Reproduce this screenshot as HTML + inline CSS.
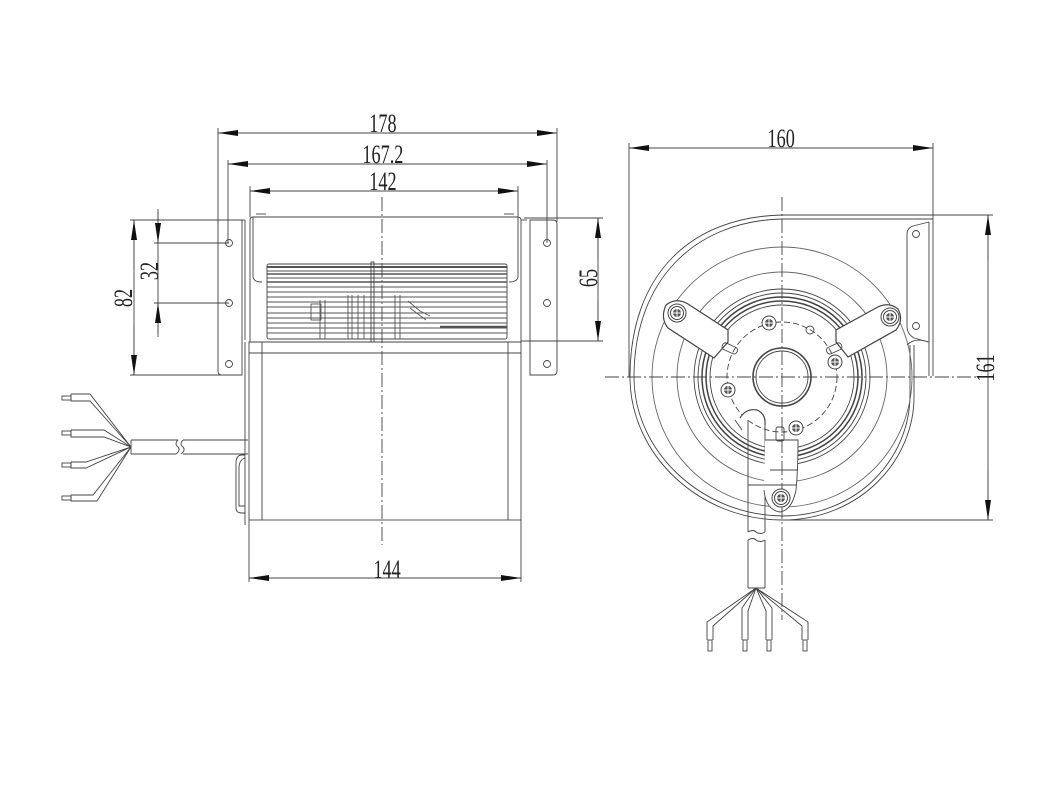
<!DOCTYPE html>
<html><head><meta charset="utf-8"><style>
html,body{margin:0;padding:0;background:#fff;}
svg{display:block}
text{font-family:"Liberation Serif",serif;fill:#222;font-size:26px}
</style></head><body>
<svg width="1050" height="797" viewBox="0 0 1050 797" xmlns="http://www.w3.org/2000/svg">
<defs>
<marker id="a" viewBox="0 0 20 6" refX="20" refY="3" markerWidth="20" markerHeight="6" markerUnits="userSpaceOnUse" orient="auto"><path d="M0,0 L20,3 L0,6z" fill="#111"/></marker>
<g id="scr"><circle r="9" fill="#fff" stroke="#444"/><circle r="6.5" fill="none" stroke="#444"/><circle r="4" fill="#555" stroke="none"/><path d="M-5,0 H5 M0,-5 V5" stroke="#fff" stroke-width="1"/></g>
<g id="scs"><circle r="7" fill="#fff" stroke="#444"/><circle r="4" fill="#555" stroke="none"/><path d="M-4,0 H4 M0,-4 V4" stroke="#fff" stroke-width="1"/></g>
</defs>
<g fill="none" stroke="#444" stroke-width="0.9">
<!-- ===== LEFT VIEW ===== -->
<line x1="218" y1="128" x2="218" y2="222"/><line x1="557" y1="128" x2="557" y2="222"/>
<line x1="218" y1="133" x2="557" y2="133"/>
<line x1="300" y1="133" x2="218" y2="133" marker-end="url(#a)"/><line x1="470" y1="133" x2="557" y2="133" marker-end="url(#a)"/>
<line x1="228" y1="160" x2="228" y2="243"/><line x1="547" y1="160" x2="547" y2="243"/>
<line x1="228" y1="164" x2="547" y2="164"/>
<line x1="300" y1="164" x2="228" y2="164" marker-end="url(#a)"/><line x1="470" y1="164" x2="547" y2="164" marker-end="url(#a)"/>
<line x1="250" y1="186" x2="250" y2="217"/><line x1="518" y1="186" x2="518" y2="217"/>
<line x1="250" y1="191" x2="518" y2="191"/>
<line x1="320" y1="191" x2="250" y2="191" marker-end="url(#a)"/><line x1="450" y1="191" x2="518" y2="191" marker-end="url(#a)"/>
<line x1="249" y1="520" x2="249" y2="582"/><line x1="521" y1="520" x2="521" y2="582"/>
<line x1="249" y1="578" x2="521" y2="578"/>
<line x1="320" y1="578" x2="249" y2="578" marker-end="url(#a)"/><line x1="450" y1="578" x2="521" y2="578" marker-end="url(#a)"/>
<line x1="130" y1="220" x2="228" y2="220"/><line x1="130" y1="375" x2="228" y2="375"/>
<line x1="134" y1="220" x2="134" y2="375"/>
<line x1="134" y1="270" x2="134" y2="220" marker-end="url(#a)"/><line x1="134" y1="325" x2="134" y2="375" marker-end="url(#a)"/>
<line x1="154" y1="243" x2="229" y2="243"/><line x1="154" y1="303" x2="229" y2="303"/>
<line x1="158" y1="209" x2="158" y2="337"/>
<line x1="158" y1="212" x2="158" y2="243" marker-end="url(#a)"/><line x1="158" y1="334" x2="158" y2="303" marker-end="url(#a)"/>
<line x1="524" y1="218" x2="603" y2="218"/><line x1="524" y1="341" x2="603" y2="341"/>
<line x1="598" y1="218" x2="598" y2="341"/>
<line x1="598" y1="260" x2="598" y2="218" marker-end="url(#a)"/><line x1="598" y1="300" x2="598" y2="341" marker-end="url(#a)"/>
<path d="M218,220 H242 V375 H222 Q218,375 218,371 Z"/>
<line x1="242" y1="220" x2="245" y2="220"/><line x1="245" y1="220" x2="245" y2="340"/>
<circle cx="229" cy="243" r="3.5"/><circle cx="229" cy="303" r="3.5"/><circle cx="229" cy="364" r="3.5"/>
<path d="M530,220 H553 Q557,220 557,224 V371 Q557,375 553,375 H530 Z"/>
<circle cx="547" cy="243" r="3.5"/><circle cx="547" cy="303" r="3.5"/><circle cx="547" cy="364" r="3.5"/>
<path d="M250,342 V220 Q250,217 253,217 H517 Q521,217 521,220 V342 Z"/>
<path d="M253,217 V276 Q253,282 262,282"/><path d="M518,217 V276 Q518,282 509,282"/>
<line x1="256" y1="214" x2="266" y2="214"/><line x1="504" y1="214" x2="514" y2="214"/>
<line x1="521" y1="220" x2="527" y2="220"/><line x1="521" y1="341" x2="527" y2="341"/>
<rect x="267" y="264" width="240" height="75" rx="2"/>
<g stroke="#555">
<line x1="267" y1="267" x2="507" y2="267" stroke-width="2"/>
<line x1="267" y1="271" x2="507" y2="271"/><line x1="267" y1="274" x2="507" y2="274" stroke-width="1.6"/>
<line x1="267" y1="278" x2="507" y2="278"/><line x1="267" y1="282" x2="507" y2="282" stroke-width="1.4"/>
<line x1="267" y1="287" x2="507" y2="287"/><line x1="267" y1="292" x2="507" y2="292"/>
<line x1="267" y1="297" x2="507" y2="297"/><line x1="267" y1="302" x2="507" y2="302"/>
<line x1="267" y1="307" x2="507" y2="307"/><line x1="267" y1="313" x2="507" y2="313"/>
<line x1="267" y1="318" x2="507" y2="318"/><line x1="267" y1="323" x2="507" y2="323"/>
<line x1="267" y1="328" x2="507" y2="328"/><line x1="267" y1="333" x2="507" y2="333"/>
<line x1="440" y1="327" x2="507" y2="327" stroke-width="2.5"/>
<line x1="320" y1="300" x2="320" y2="339"/><line x1="325" y1="300" x2="325" y2="339"/>
<line x1="348" y1="295" x2="348" y2="339"/><line x1="352" y1="295" x2="352" y2="339"/>
<line x1="358" y1="295" x2="358" y2="339"/><line x1="364" y1="295" x2="364" y2="339"/>
<line x1="395" y1="295" x2="395" y2="339"/><line x1="400" y1="295" x2="400" y2="339"/>
<rect x="311" y="304" width="10" height="16"/>
<path d="M408,301 L420,311 L430,316 M410,308 L426,320"/>
</g>
<rect x="371" y="262" width="3" height="80"/>
<rect x="249" y="342" width="272" height="178"/>
<line x1="262" y1="342" x2="262" y2="520"/><line x1="508" y1="342" x2="508" y2="520"/>
<line x1="249" y1="353" x2="521" y2="353"/>
<line x1="245" y1="342" x2="245" y2="525"/>
<path d="M245,455 H242 Q236,455 236,463 V508 Q236,513 242,513 H245"/>
<path d="M245,458 Q239,460 239,468 V506 H245"/>
<path d="M131,440 H178 M131,454 H176 M183,440 H248 M183,454 H248"/>
<path d="M178,440 q-4,4 0,7 q3,3 -2,7"/><path d="M183,440 q-4,4 0,7 q3,3 -2,7"/>
<line x1="131" y1="440" x2="131" y2="454"/>
<path d="M131,447 L90,394 H71 M131,447 L90,401 H71 V394"/>
<path d="M131,447 L104,430 H71 M131,447 L104,437 H71 V430"/>
<path d="M131,447 L86,462 H71 M131,447 L86,468 H71 V462"/>
<path d="M131,447 L93,495 H71 M131,447 L97,501 H71 V495"/>
<rect x="62" y="396" width="9" height="4"/><rect x="62" y="431" width="9" height="4"/>
<rect x="62" y="463" width="9" height="4"/><rect x="62" y="496" width="9" height="4"/>
<line x1="382" y1="197" x2="382" y2="545" stroke-dasharray="14,3,2,3"/>

<!-- ===== RIGHT VIEW ===== -->
<line x1="629" y1="143" x2="629" y2="377"/><line x1="933" y1="143" x2="933" y2="215"/>
<line x1="629" y1="148" x2="933" y2="148"/>
<line x1="700" y1="148" x2="629" y2="148" marker-end="url(#a)"/><line x1="860" y1="148" x2="933" y2="148" marker-end="url(#a)"/>
<line x1="782" y1="215" x2="993" y2="215"/><line x1="782" y1="520" x2="993" y2="520"/>
<line x1="988" y1="215" x2="988" y2="520"/>
<line x1="988" y1="260" x2="988" y2="215" marker-end="url(#a)"/><line x1="988" y1="470" x2="988" y2="520" marker-end="url(#a)"/>
<path d="M933,215 H782 C690,217 630,275 630,377 C630,455 700,520 782,520 C860,520 915,460 914,395 L914,345"/>
<path d="M933,219 H782 C695,221 634,280 634,377 C634,452 702,515 782,516 C858,516 910,458 910,395 L910,345"/>
<path d="M907,345 Q915,337 928,342"/>
<line x1="933" y1="215" x2="933" y2="376"/><line x1="929" y1="222" x2="929" y2="376"/>
<path d="M929,222 L913,226 Q907,228 907,234 V326 Q907,334 914,338 L929,342"/>
<circle cx="916" cy="234" r="3.5"/><circle cx="916" cy="326" r="3.5"/>
<circle cx="782" cy="377" r="130" stroke="#666"/>
<circle cx="782" cy="377" r="105" stroke="#666"/>
<circle cx="782" cy="377" r="88"/>
<circle cx="782" cy="377" r="84"/>
<circle cx="782" cy="377" r="80" stroke-width="1.5"/>
<circle cx="782" cy="377" r="76" stroke-width="1.5"/>
<circle cx="782" cy="377" r="72"/>
<circle cx="782" cy="377" r="55" stroke-dasharray="6,3"/>
<circle cx="782" cy="377" r="29" stroke-width="1.6"/>
<circle cx="782" cy="377" r="26"/>
<path d="M666,305 Q676,297 688,304 L728,330 L728,342 L714,358 L668,328 Q660,318 666,305 Z" fill="#fff" stroke-width="1.2"/>
<path d="M898,309 Q888,301 876,308 L836,330 L836,342 L848,357 L896,330 Q904,320 898,309 Z" fill="#fff" stroke-width="1.2"/>
<rect x="722" y="345" width="16" height="7" rx="3" transform="rotate(25 730 348)"/>
<rect x="826" y="345" width="16" height="7" rx="3" transform="rotate(-25 834 348)"/>
<circle cx="810" cy="330" r="4"/>
<path d="M740,418 Q746,408 757,410 Q766,414 765,425" fill="#fff" stroke-width="1.2"/>
<path d="M735,420 L742,430"/>
<path d="M748,420 V532 M765,425 V532 M748,540 V588 M765,540 V588"/>
<path d="M748,532 q5,-3 8,0 q4,3 9,0 M748,540 q5,-3 8,0 q4,3 9,0"/>
<line x1="748" y1="588" x2="765" y2="588"/>
<path d="M765,440 H798 Q798,470 796,490 Q792,510 780,512 Q766,510 764,490" fill="#fff"/>
<line x1="770" y1="470" x2="798" y2="470"/><line x1="748" y1="485" x2="796" y2="485"/>
<rect x="776" y="427" width="8" height="14" rx="2"/>
<!-- wires -->
<path d="M756,588 L707,622 V640 M756,588 L713,626 V640"/>
<path d="M756,588 L742,608 V640 M756,588 L748,611 V640"/>
<path d="M756,588 L766,611 V640 M756,588 L772,608 V640"/>
<path d="M756,588 L808,622 V640 M756,588 L802,626 V640"/>
<rect x="708" y="640" width="4" height="11"/><rect x="743" y="640" width="4" height="11"/>
<rect x="767" y="640" width="4" height="11"/><rect x="803" y="640" width="4" height="11"/>
<line x1="782" y1="197" x2="782" y2="620" stroke-dasharray="14,3,2,3"/>
<line x1="605" y1="377" x2="985" y2="377" stroke-dasharray="14,3,2,3"/>
</g>
<use href="#scr" x="677" y="313"/><use href="#scr" x="890" y="317"/>
<use href="#scs" x="769" y="323"/><use href="#scs" x="835" y="362"/>
<use href="#scs" x="728" y="390"/><use href="#scs" x="796" y="428"/>
<use href="#scr" x="781" y="498"/>
<g transform="scale(0.7,1)">
<text x="547" y="132" text-anchor="middle">178</text>
<text x="547" y="163" text-anchor="middle">167.2</text>
<text x="547" y="190" text-anchor="middle">142</text>
<text x="553" y="578" text-anchor="middle">144</text>
<text x="1116" y="147" text-anchor="middle">160</text>
</g>
<text transform="translate(132,298) rotate(-90) scale(0.7,1)" text-anchor="middle">82</text>
<text transform="translate(158,271) rotate(-90) scale(0.7,1)" text-anchor="middle">32</text>
<text transform="translate(597,278) rotate(-90) scale(0.7,1)" text-anchor="middle">65</text>
<text transform="translate(994,368) rotate(-90) scale(0.7,1)" text-anchor="middle">161</text>
</svg>
</body></html>
